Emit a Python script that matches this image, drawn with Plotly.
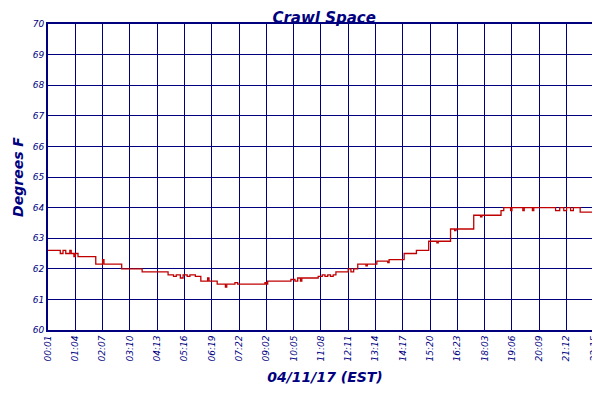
import plotly.graph_objects as go

# Step runs: (temperature F, number of samples)
run_values = [62.6, 62.5, 62.6, 62.5, 62.6, 62.5, 62.4, 62.5,
              62.4, 62.15, 62.3, 62.15, 62.0, 61.9,
              61.8, 61.75, 61.8, 61.7, 61.8, 61.75, 61.8, 61.75,
              61.6, 61.7, 61.6, 61.5, 61.4, 61.5, 61.55, 61.5, 61.55, 61.5,
              61.6, 61.65, 61.6, 61.7, 61.6, 61.7,
              61.75, 61.8, 61.75, 61.8, 61.75, 61.8, 61.9, 62.0, 61.9, 62.0,
              62.15, 62.1, 62.15, 62.25, 62.2, 62.3, 62.3, 62.5, 62.6, 62.9, 62.85, 62.9,
              63.3, 63.25, 63.3, 63.75, 63.7, 63.75,
              63.9, 64.0, 63.9, 64.0, 63.9, 64.0, 63.9, 64.0, 64.0, 63.9, 64.0, 63.9, 64.0, 63.9, 64.0, 63.85]
run_lengths = [9, 2, 2, 3, 1, 2, 1, 2,
               13, 5, 1, 13, 15, 19,
               4, 2, 3, 2, 3, 2, 4, 4,
               5, 1, 6, 6, 1, 6, 2, 20, 1, 1,
               17, 3, 2, 2, 1, 12,
               3, 2, 2, 2, 2, 2, 9, 2, 2, 3,
               6, 1, 7, 8, 1, 2, 9, 9, 9, 6, 1, 9,
               3, 1, 13, 5, 1, 14,
               2, 5, 1, 8, 1, 6, 1, 11, 5, 3, 3, 2, 3, 2, 5, 17]

tick_labels = ["00:01", "01:04", "02:07", "03:10", "04:13", "05:16", "06:19", "07:22",
               "09:02", "10:05", "11:08", "12:11", "13:14", "14:17", "15:20", "16:23",
               "18:03", "19:06", "20:09", "21:12", "22:15", "22:23"]

temps = []
for v, n in zip(run_values, run_lengths):
    temps.extend([v] * n)
x = list(range(len(temps)))
last = len(temps) - 1
tick_positions = [i * 20 for i in range(21)] + [last]

navy = "#00007f"
fig = go.Figure(go.Scatter(x=x, y=temps, mode="lines", line=dict(color="#c00000", width=1.3, shape="hv"),
                           name="Crawl Space"))
fig.update_layout(
    width=600, height=400, margin=dict(l=40, r=6, t=16, b=78, autoexpand=False),
    paper_bgcolor="white", plot_bgcolor="white",
    title=dict(text="<b><i>Crawl Space</i></b>", x=0.527, xanchor="center", y=0.99, yanchor="top",
               font=dict(family="DejaVu Sans", size=15, color=navy)),
    font=dict(family="DejaVu Sans", color=navy),
    showlegend=True,
    legend=dict(orientation="h", x=0.5, xanchor="center", y=-0.2, yanchor="top",
                font=dict(size=11, style="italic")),
)
fig.update_xaxes(range=[0, last], tickvals=tick_positions, ticktext=tick_labels, tickangle=-90,
                 tickfont=dict(size=9, style="italic"), showgrid=True, gridcolor=navy, gridwidth=1,
                 showline=True, linecolor=navy, linewidth=2, mirror=True, zeroline=False,
                 ticklabeloverflow="allow", automargin=False,
                 title=dict(text="<b><i>04/11/17 (EST)</i></b>", font=dict(size=14), standoff=12))
fig.update_yaxes(range=[60, 70], dtick=1, tickfont=dict(size=9, style="italic"), automargin=False,
                 showgrid=True, gridcolor=navy, gridwidth=1,
                 showline=True, linecolor=navy, linewidth=2, mirror=True, zeroline=False,
                 title=dict(text="<b><i>Degrees F</i></b>", font=dict(size=14), standoff=6))
fig.write_html("out.html")
